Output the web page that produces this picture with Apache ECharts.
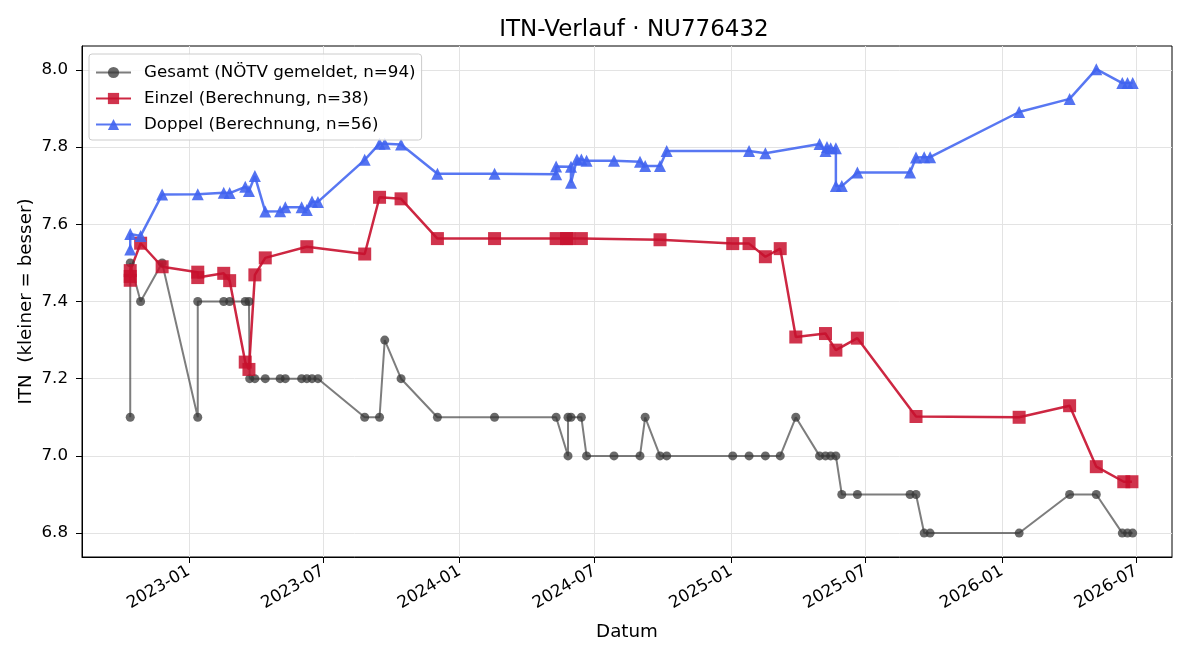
<!DOCTYPE html>
<html>
<head>
<meta charset="utf-8">
<title>ITN-Verlauf</title>
<script src="https://cdn.jsdelivr.net/npm/echarts@6/dist/echarts.min.js"></script>
<style>
  html, body { margin: 0; padding: 0; background: #fff; }
  #chart { width: 1200px; height: 660px; }
</style>
</head>
<body>
<div id="chart"></div>
<script>
// Gesamt (reported ITN)
const gesamtDates = [
  '2022-10-14', '2022-10-14', '2022-10-28', '2022-11-26', '2023-01-13', '2023-01-13',
  '2023-02-17', '2023-02-25', '2023-03-18', '2023-03-23', '2023-03-24', '2023-03-31',
  '2023-04-14', '2023-05-04', '2023-05-11', '2023-06-02', '2023-06-09', '2023-06-16',
  '2023-06-24', '2023-08-26', '2023-09-15', '2023-09-22', '2023-10-14', '2023-12-02',
  '2024-02-17', '2024-05-10', '2024-05-26', '2024-05-26', '2024-05-30', '2024-06-13',
  '2024-06-20', '2024-07-27', '2024-08-31', '2024-09-07', '2024-09-27', '2024-10-06',
  '2025-01-03', '2025-01-25', '2025-02-16', '2025-03-08', '2025-03-29', '2025-04-30',
  '2025-05-08', '2025-05-15', '2025-05-22', '2025-05-30', '2025-06-20', '2025-08-30',
  '2025-09-07', '2025-09-18', '2025-09-26', '2026-01-24', '2026-04-02', '2026-05-08',
  '2026-06-12', '2026-06-19', '2026-06-26'
]
const gesamtValues = [
  7.1, 7.5, 7.4, 7.5, 7.1, 7.4,
  7.4, 7.4, 7.4, 7.4, 7.2, 7.2,
  7.2, 7.2, 7.2, 7.2, 7.2, 7.2,
  7.2, 7.1, 7.1, 7.3, 7.2, 7.1,
  7.1, 7.1, 7.0, 7.1, 7.1, 7.1,
  7.0, 7.0, 7.0, 7.1, 7.0, 7.0,
  7.0, 7.0, 7.0, 7.0, 7.1, 7.0,
  7.0, 7.0, 7.0, 6.9, 6.9, 6.9,
  6.9, 6.8, 6.8, 6.8, 6.9, 6.9,
  6.8, 6.8, 6.8
]

// Einzel (berechnet)
const einzelDates = [
  '2022-10-14', '2022-10-14', '2022-10-14', '2022-10-28', '2022-11-26', '2023-01-13',
  '2023-01-13', '2023-02-17', '2023-02-25', '2023-03-18', '2023-03-23', '2023-03-31',
  '2023-04-14', '2023-06-09', '2023-08-26', '2023-09-15', '2023-10-14', '2023-12-02',
  '2024-02-17', '2024-05-10', '2024-05-24', '2024-05-27', '2024-06-13', '2024-09-27',
  '2025-01-03', '2025-01-25', '2025-02-16', '2025-03-08', '2025-03-29', '2025-05-08',
  '2025-05-22', '2025-06-20', '2025-09-07', '2026-01-24', '2026-04-02', '2026-05-08',
  '2026-06-14', '2026-06-25'
]
const einzelValues = [
  7.455, 7.465, 7.480, 7.551, 7.490, 7.476,
  7.462, 7.473, 7.454, 7.243, 7.224, 7.469,
  7.513, 7.542, 7.523, 7.670, 7.666, 7.563,
  7.563, 7.563, 7.563, 7.563, 7.563, 7.560,
  7.550, 7.550, 7.516, 7.537, 7.308, 7.317,
  7.274, 7.305, 7.102, 7.100, 7.130, 6.972,
  6.933, 6.933
]

// Doppel (berechnet)
const doppelDates = [
  '2022-10-14', '2022-10-14', '2022-10-28', '2022-11-26', '2023-01-13', '2023-02-17',
  '2023-02-25', '2023-03-18', '2023-03-23', '2023-03-31', '2023-04-14', '2023-05-04',
  '2023-05-11', '2023-06-02', '2023-06-09', '2023-06-16', '2023-06-24', '2023-08-26',
  '2023-09-15', '2023-09-22', '2023-10-14', '2023-12-02', '2024-02-17', '2024-05-10',
  '2024-05-10', '2024-05-30', '2024-05-30', '2024-06-07', '2024-06-13', '2024-06-20',
  '2024-07-27', '2024-08-31', '2024-09-07', '2024-09-27', '2024-10-06', '2025-01-25',
  '2025-02-16', '2025-04-30', '2025-05-08', '2025-05-10', '2025-05-15', '2025-05-22',
  '2025-05-22', '2025-05-30', '2025-06-20', '2025-08-30', '2025-09-07', '2025-09-18',
  '2025-09-26', '2026-01-24', '2026-04-02', '2026-05-08', '2026-06-12', '2026-06-19',
  '2026-06-26'
]
const doppelValues = [
  7.535, 7.575, 7.570, 7.677, 7.678, 7.682,
  7.681, 7.697, 7.686, 7.725, 7.633, 7.634,
  7.644, 7.644, 7.637, 7.659, 7.658, 7.767,
  7.809, 7.809, 7.807, 7.731, 7.731, 7.730,
  7.750, 7.749, 7.708, 7.768, 7.768, 7.765,
  7.765, 7.762, 7.751, 7.751, 7.790, 7.790,
  7.784, 7.808, 7.790, 7.800, 7.797, 7.797,
  7.699, 7.699, 7.734, 7.734, 7.773, 7.774,
  7.774, 7.891, 7.925, 8.002, 7.966, 7.966,
  7.966
]

const xTickLabels = ['2023-01', '2023-07', '2024-01', '2024-07', '2025-01', '2025-07', '2026-01', '2026-07']
const yTicks = [6.8, 7.0, 7.2, 7.4, 7.6, 7.8, 8.0]

function toTime(s) {
  const p = s.split('-').map(Number)
  return Date.UTC(p[0], p[1] - 1, p[2] || 1)
}

function pairs(dates, values) {
  return dates.map((d, i) => [toTime(d), values[i]])
}

const font = 'DejaVu Sans'
const xTicks = xTickLabels.map(toTime)
const chart = echarts.init(document.getElementById('chart'))

const option = {
  animation: false,
  textStyle: { fontFamily: font },
  title: {
    text: 'ITN-Verlauf · NU776432',
    left: 629,
    top: 14,
    textAlign: 'center',
    textStyle: { fontFamily: font, fontSize: 23, fontWeight: 'normal', color: '#000' }
  },
  legend: {
    orient: 'vertical',
    left: 89,
    top: 54,
    padding: [10, 6, 7, 6],
    itemGap: 9,
    itemWidth: 35,
    itemHeight: 14,
    backgroundColor: 'rgba(255,255,255,0.8)',
    borderColor: '#cccccc',
    borderWidth: 1,
    borderRadius: 3,
    textStyle: { fontFamily: font, fontSize: 16.7, color: '#000', padding: [0, 0, 0, 8] }
  },
  grid: {
    left: 82,
    right: 28,
    top: 46,
    bottom: 103,
    show: true,
    borderColor: '#000',
    borderWidth: 1,
    backgroundColor: 'transparent'
  },
  xAxis: {
    type: 'value',
    min: toTime('2022-08-10'),
    max: toTime('2026-08-18'),
    name: 'Datum',
    nameLocation: 'middle',
    nameGap: 66,
    nameTextStyle: { fontFamily: font, fontSize: 18.3, color: '#000' },
    axisLine: { show: true, lineStyle: { color: '#000', width: 1 } },
    axisTick: {
      show: true,
      length: 6,
      lineStyle: { color: '#000' },
      customValues: xTicks
    },
    axisLabel: {
      customValues: xTicks,
      rotate: 30,
      margin: 13,
      fontFamily: font,
      fontSize: 16.7,
      color: '#000',
      formatter: function (v) {
        const d = new Date(v)
        const m = d.getUTCMonth() + 1
        return d.getUTCFullYear() + '-' + (m < 10 ? '0' + m : m)
      }
    },
    splitLine: { show: true, lineStyle: { color: '#e3e3e3', width: 1 } }
  },
  yAxis: {
    type: 'value',
    min: 6.738,
    max: 8.062,
    name: 'ITN  (kleiner = besser)',
    nameLocation: 'middle',
    nameGap: 47,
    nameMoveOverlap: false,
    nameTextStyle: { fontFamily: font, fontSize: 18.3, color: '#000' },
    axisLine: { show: true, lineStyle: { color: '#000', width: 1 } },
    axisTick: {
      show: true,
      length: 6,
      lineStyle: { color: '#000' },
      customValues: yTicks
    },
    axisLabel: {
      customValues: yTicks,
      margin: 14,
      fontFamily: font,
      fontSize: 16.7,
      color: '#000',
      formatter: v => v.toFixed(1)
    },
    splitLine: { show: true, lineStyle: { color: '#e3e3e3', width: 1 } }
  },
  series: [
    {
      name: 'Gesamt (NÖTV gemeldet, n=94)',
      type: 'line',
      data: pairs(gesamtDates, gesamtValues),
      showAllSymbol: true,
      symbol: 'circle',
      symbolSize: 9,
      lineStyle: { width: 2, color: 'rgba(70,70,70,0.7)' },
      itemStyle: { color: 'rgba(55,55,55,0.75)' }
    },
    {
      name: 'Einzel (Berechnung, n=38)',
      type: 'line',
      data: pairs(einzelDates, einzelValues),
      showAllSymbol: true,
      symbol: 'rect',
      symbolSize: 13,
      lineStyle: { width: 2.5, color: 'rgba(200,16,46,0.9)' },
      itemStyle: { color: 'rgba(200,16,46,0.85)' }
    },
    {
      name: 'Doppel (Berechnung, n=56)',
      type: 'line',
      data: pairs(doppelDates, doppelValues),
      showAllSymbol: true,
      symbol: 'triangle',
      symbolSize: 12,
      lineStyle: { width: 2.5, color: 'rgba(65,100,240,0.88)' },
      itemStyle: { color: 'rgba(65,100,240,0.9)' }
    }
  ]
}

chart.setOption(option)
</script>
</body>
</html>
